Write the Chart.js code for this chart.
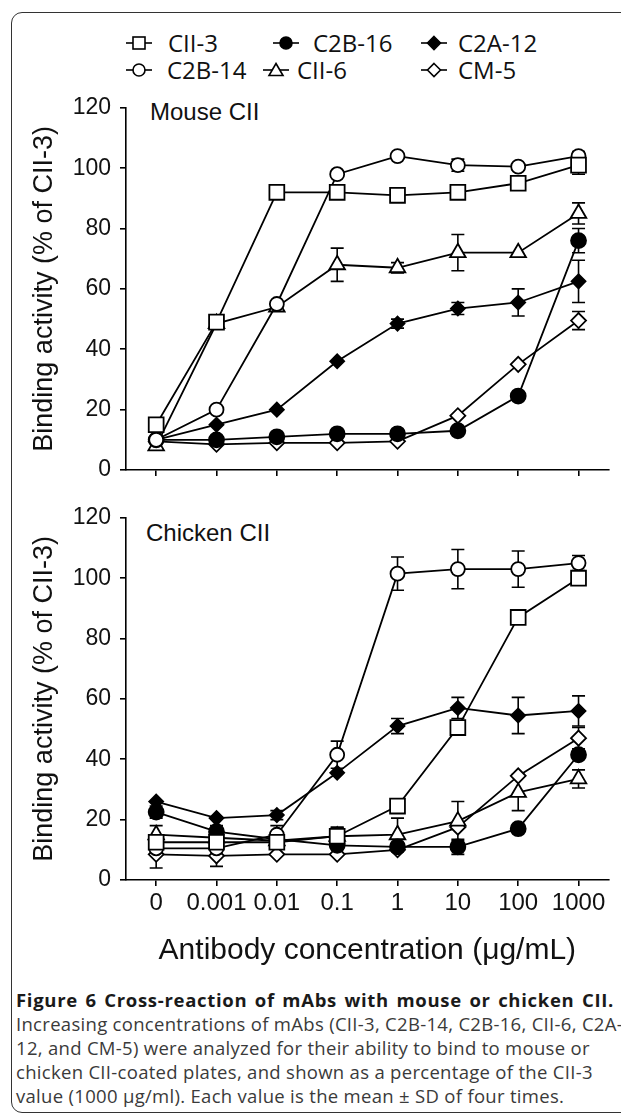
<!DOCTYPE html>
<html lang="en">
<head>
<meta charset="UTF-8">
<title>Figure 6 - Cross-reaction of mAbs</title>
<script src="https://cdn.jsdelivr.net/npm/chart.js"></script>
<style>
  body {
    margin: 0;
    width: 621px;
    height: 1116px;
    overflow: hidden;
    background: #fff;
    position: relative;
    font-family: "Liberation Sans", Arial, sans-serif;
  }
  .frame {
    position: absolute;
    left: 11px;
    top: 12px;
    width: 640px;
    height: 1101px;
    border: 1.5px solid #333;
    border-radius: 11px;
    box-sizing: border-box;
  }
  canvas { position: absolute; left: 0; }
  #mouseChart { top: 85px; }
  #chickenChart { top: 495px; }
  .leg-icon { position: absolute; }
  .leg-text {
    position: absolute;
    font-family: "Open Sans", sans-serif;
    font-size: 24px;
    line-height: 24px;
    color: #111;
    white-space: nowrap;
  }
  .panel-label {
    position: absolute;
    font-size: 24px;
    line-height: 24px;
    color: #111;
  }
  .caption {
    position: absolute;
    left: 16px;
    top: 988px;
    font-family: "Open Sans", sans-serif;
    font-size: 18.5px;
    letter-spacing: 0.3px;
    line-height: 24px;
    color: #3a3a3a;
    white-space: nowrap;
  }
  .caption b { color: #1a1a1a; letter-spacing: 0.7px; word-spacing: 2px; }
</style>
</head>
<body>
<div class="frame"></div>
<div id="legend"></div>
<div class="panel-label" style="left:150px; top:100px;">Mouse CII</div>
<div class="panel-label" style="left:146px; top:521px;">Chicken CII</div>
<canvas id="mouseChart" width="621" height="408"></canvas>
<canvas id="chickenChart" width="621" height="485"></canvas>
<div class="caption">
  <b>Figure 6 Cross-reaction of mAbs with mouse or chicken CII.</b><br>
  Increasing concentrations of mAbs (CII-3, C2B-14, C2B-16, CII-6, C2A-<br>
  12, and CM-5) were analyzed for their ability to bind to mouse or<br>
  chicken CII-coated plates, and shown as a percentage of the CII-3<br>
  value (1000 μg/ml). Each value is the mean ± SD of four times.
</div>

<script>
// concentrations (µg/mL)
const concentrations = ['0', '0.001', '0.01', '0.1', '1', '10', '100', '1000'];
const seriesNames = ['CII-3', 'C2B-14', 'C2B-16', 'CII-6', 'C2A-12', 'CM-5'];
const yTicks = [0, 20, 40, 60, 80, 100, 120];

// mouse CII binding (% of CII-3)
const mouseCII3 = [15, 49, 92, 92, 91, 92, 95, 101];
const mouseC2B14 = [10, 20, 55, 98, 104, 101, 100.5, 104];
const mouseC2B16 = [10, 10, 11, 12, 12, 13, 24.5, 76];
const mouseCII6 = [8, 48.5, 54, 68, 67, 72, 72, 85];
const mouseC2A12 = [10, 15, 20, 36, 48.5, 53.5, 55.5, 62.5];
const mouseCM5 = [9.5, 8.5, 9, 9, 9.5, 18, 35, 49.5];

// mouse SD
const mouseCII3Sd = [0, 0, 0, 0, 0, 0, 2, 3];
const mouseC2B14Sd = [0, 0, 0, 0, 1, 2, 1, 1.5];
const mouseC2B16Sd = [0, 0, 0, 0, 0, 0, 0, 4];
const mouseCII6Sd = [1, 0, 0, 5.5, 1.7, 6, 0, 3.5];
const mouseC2A12Sd = [0, 0, 0, 0, 1.5, 2, 4.5, 7];
const mouseCM5Sd = [0, 0, 0, 0, 0, 0, 0, 3];

// chicken CII binding (% of CII-3)
const chickenCII3 = [12.5, 12.5, 12.5, 14.5, 24.5, 50.5, 87, 100];
const chickenC2B14 = [10.5, 10.5, 15, 41.5, 101.5, 103, 103, 105];
const chickenC2B16 = [22.5, 16, 13.5, 11.5, 11, 11, 17, 41.5];
const chickenCII6 = [15, 14, 13, 14.5, 15, 19.5, 29, 33.5];
const chickenC2A12 = [26, 20.5, 21.5, 35.5, 51, 57, 54.5, 56];
const chickenCM5 = [8.5, 8, 8.5, 8.5, 10, 17.5, 34.5, 47];

// chicken SD
const chickenCII3Sd = [0, 0, 0, 3, 0, 0, 0, 0];
const chickenC2B14Sd = [0, 0, 3, 4.5, 5.5, 6.5, 6, 2.5];
const chickenC2B16Sd = [2, 2, 2, 0, 0, 2.5, 0, 0];
const chickenCII6Sd = [3, 0, 0, 3, 5.5, 6.5, 6, 3];
const chickenC2A12Sd = [0, 0, 1.5, 0, 2.5, 3.5, 6, 5];
const chickenCM5Sd = [4.5, 3.5, 0, 0, 0, 0, 0, 3.5];

const markers = {
  'CII-3':  { style: 'rect',     radius: 10.5, fill: '#fff' },
  'C2B-14': { style: 'circle',   radius: 7,    fill: '#fff' },
  'C2B-16': { style: 'circle',   radius: 7.5,  fill: '#000' },
  'CII-6':  { style: 'triangle', radius: 9,    fill: '#fff' },
  'C2A-12': { style: 'rectRot',  radius: 7,    fill: '#000' },
  'CM-5':   { style: 'rectRot',  radius: 7.5,  fill: '#fff' }
};

// legend layout: [icon x, text x, row]
const legendPos = {
  'CII-3':  [126, 168, 0],
  'C2B-16': [273, 313, 0],
  'C2A-12': [421, 458, 0],
  'C2B-14': [126, 167, 1],
  'CII-6':  [263, 297, 1],
  'CM-5':   [421, 458, 1]
};
const legendRows = [43, 70];

function iconSvg(m) {
  let shape = '';
  if (m.style === 'rect') shape = '<rect x="7" y="2" width="12" height="12" fill="' + m.fill + '" stroke="#000" stroke-width="1.6"/>';
  if (m.style === 'circle') shape = '<circle cx="13" cy="8" r="6" fill="' + m.fill + '" stroke="#000" stroke-width="1.6"/>';
  if (m.style === 'triangle') shape = '<polygon points="13,1.5 20,13.5 6,13.5" fill="' + m.fill + '" stroke="#000" stroke-width="1.6"/>';
  if (m.style === 'rectRot') shape = '<polygon points="13,1.5 19.5,8 13,14.5 6.5,8" fill="' + m.fill + '" stroke="#000" stroke-width="1.6"/>';
  return '<svg width="26" height="16" viewBox="0 0 26 16"><line x1="0" y1="8" x2="26" y2="8" stroke="#000" stroke-width="1.6"/>' + shape + '</svg>';
}

const legendEl = document.getElementById('legend');
seriesNames.forEach(name => {
  const [ix, tx, row] = legendPos[name];
  const cy = legendRows[row];
  const icon = document.createElement('div');
  icon.className = 'leg-icon';
  icon.style.left = ix + 'px';
  icon.style.top = (cy - 8) + 'px';
  icon.innerHTML = iconSvg(markers[name]);
  legendEl.appendChild(icon);
  const txt = document.createElement('div');
  txt.className = 'leg-text';
  txt.style.left = tx + 'px';
  txt.style.top = (cy - 12) + 'px';
  txt.textContent = name;
  legendEl.appendChild(txt);
});

// draws mean ± SD whiskers behind the markers
const errorBars = {
  id: 'errorBars',
  beforeDatasetsDraw(chart) {
    const { ctx, scales } = chart;
    ctx.save();
    ctx.strokeStyle = '#000';
    ctx.lineWidth = 1.6;
    chart.data.datasets.forEach(ds => {
      ds.errors.forEach((e, j) => {
        if (!e) return;
        const px = scales.x.getPixelForValue(j);
        const top = scales.y.getPixelForValue(ds.data[j] + e);
        const bot = scales.y.getPixelForValue(ds.data[j] - e);
        ctx.beginPath();
        ctx.moveTo(px, top); ctx.lineTo(px, bot);
        ctx.moveTo(px - 6.5, top); ctx.lineTo(px + 6.5, top);
        ctx.moveTo(px - 6.5, bot); ctx.lineTo(px + 6.5, bot);
        ctx.stroke();
      });
    });
    ctx.restore();
  }
};

function buildDatasets(values, errors) {
  return seriesNames.map((name, i) => ({
    label: name,
    data: values[i],
    errors: errors[i],
    borderColor: '#000',
    borderWidth: 1.8,
    pointStyle: markers[name].style,
    pointRadius: markers[name].radius,
    pointBackgroundColor: markers[name].fill,
    pointBorderColor: '#000',
    pointBorderWidth: 1.8,
    tension: 0,
    fill: false
  }));
}

function makeChart(id, values, errors, showLabels) {
  return new Chart(document.getElementById(id), {
    type: 'line',
    data: { labels: concentrations, datasets: buildDatasets(values, errors) },
    plugins: [errorBars],
    options: {
      responsive: false,
      animation: false,
      devicePixelRatio: 1,
      layout: { padding: { top: showLabels ? 18 : 20, right: 5, left: 0, bottom: 0 } },
      plugins: { legend: { display: false }, tooltip: { enabled: false } },
      scales: {
        x: {
          offset: true,
          grid: { drawOnChartArea: false, drawTicks: true, tickLength: 6, color: '#000', lineWidth: 1.6, offset: false },
          border: { display: true, color: '#000', width: 1.6 },
          ticks: { display: showLabels, color: '#111', font: { family: 'Liberation Sans', size: 24 }, padding: 3, maxRotation: 0, autoSkip: false },
          title: {
            display: showLabels,
            text: 'Antibody concentration (μg/mL)',
            color: '#111',
            font: { family: 'Liberation Sans', size: 30 },
            padding: { top: 0, bottom: 11 }
          },
          afterFit(scale) { scale.height = showLabels ? 100 : 23; }
        },
        y: {
          min: 0,
          max: 120,
          afterBuildTicks(scale) { scale.ticks = yTicks.map(v => ({ value: v })); },
          grid: { drawOnChartArea: false, drawTicks: true, tickLength: 6, color: '#000', lineWidth: 1.6 },
          border: { display: true, color: '#000', width: 1.6 },
          ticks: { color: '#111', font: { family: 'Liberation Sans', size: 23 }, padding: 9 },
          title: {
            display: true,
            text: 'Binding activity (% of CII-3)',
            color: '#111',
            font: { family: 'Liberation Sans', size: 27 },
            padding: { top: 28, bottom: 0 }
          },
          afterFit(scale) { scale.width = 126; }
        }
      }
    }
  });
}

makeChart('mouseChart',
  [mouseCII3, mouseC2B14, mouseC2B16, mouseCII6, mouseC2A12, mouseCM5],
  [mouseCII3Sd, mouseC2B14Sd, mouseC2B16Sd, mouseCII6Sd, mouseC2A12Sd, mouseCM5Sd],
  false);

makeChart('chickenChart',
  [chickenCII3, chickenC2B14, chickenC2B16, chickenCII6, chickenC2A12, chickenCM5],
  [chickenCII3Sd, chickenC2B14Sd, chickenC2B16Sd, chickenCII6Sd, chickenC2A12Sd, chickenCM5Sd],
  true);
</script>
</body>
</html>
